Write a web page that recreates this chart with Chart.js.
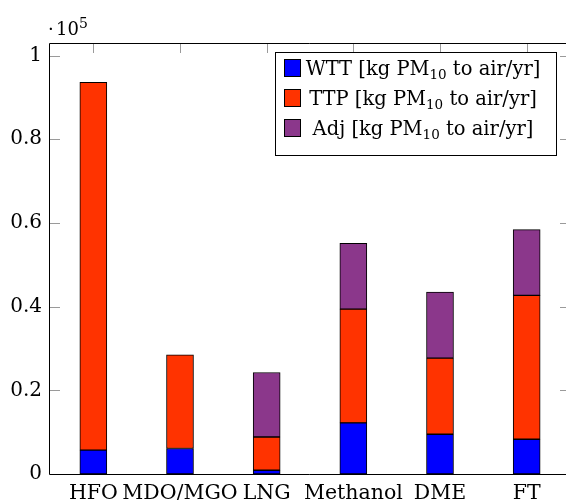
<!DOCTYPE html>
<html><head><meta charset="utf-8">
<script src="https://cdn.jsdelivr.net/npm/chart.js@4/dist/chart.umd.min.js"></script>
<style>html,body{margin:0;padding:0;overflow:hidden;background:#fff}#wrap{width:566px;height:500px;overflow:hidden;position:relative}canvas{display:block;position:absolute;left:0;top:0}</style>
</head><body>
<div id="wrap"><canvas id="c" width="580" height="500" style="width:580px;height:500px"></canvas></div>
<script>
// Data (kg PM10 to air / yr)
const categories = ['HFO', 'MDO/MGO', 'LNG', 'Methanol', 'DME', 'FT'];
const wttValues = [5700, 6100, 900, 12200, 9500, 8300];
const ttpValues = [87900, 22400, 7950, 27200, 18200, 34400];
const adjValues = [0, 0, 15400, 15700, 15800, 15700];
const seriesLabels = ['WTT', 'TTP', 'Adj'];
const yTickValues = [0, 20000, 40000, 60000, 80000, 100000];

const FONT = "'DejaVu Serif', serif";
const colors = ['#0000FF', '#FF3300', '#8B378B'];

const framePlugin = {
  id: 'frame',
  beforeDatasetsDraw(chart) {
    const {ctx, chartArea: a, scales: {x, y}} = chart;
    ctx.save();
    ctx.strokeStyle = '#9a9a9a';
    ctx.lineWidth = 1;
    ctx.beginPath();
    const tl = 10;
    y.ticks.forEach(t => {
      const py = Math.round(y.getPixelForValue(t.value)) + 0.5;
      ctx.moveTo(a.left, py); ctx.lineTo(a.left + tl, py);
      ctx.moveTo(a.right, py); ctx.lineTo(a.right - tl, py);
    });
    categories.forEach((c, i) => {
      const px = Math.round(x.getPixelForValue(i)) + 0.5;
      ctx.moveTo(px, a.top); ctx.lineTo(px, a.top + tl);
      ctx.moveTo(px, a.bottom); ctx.lineTo(px, a.bottom - tl);
    });
    ctx.stroke();
    ctx.restore();
  },
  afterDatasetsDraw(chart) {
    const {ctx, chartArea: a} = chart;
    ctx.save();
    ctx.strokeStyle = '#000';
    ctx.lineWidth = 1;
    const l = Math.round(a.left) - 0.5, t = Math.round(a.top) + 0.5, b = Math.round(a.bottom) + 0.5, r = Math.round(a.right);
    ctx.beginPath();
    ctx.moveTo(r, t); ctx.lineTo(l, t); ctx.lineTo(l, b); ctx.lineTo(r, b);
    ctx.stroke();
    ctx.restore();
  },
  afterDraw(chart) {
    const {ctx} = chart;
    ctx.save();
    // exponent
    ctx.fillStyle = '#000';
    ctx.textBaseline = 'alphabetic';
    ctx.textAlign = 'left';
    ctx.font = '18px ' + FONT;
    ctx.fillText('·', 48, 35);
    ctx.fillText('10', 56, 35);
    ctx.font = '14px ' + FONT;
    ctx.fillText('5', 79, 28);
    // legend
    const bx = 275.5, by = 52.5, bw = 281, bh = 103;
    ctx.fillStyle = '#fff';
    ctx.fillRect(bx, by, bw, bh);
    ctx.strokeStyle = '#000';
    ctx.lineWidth = 1;
    ctx.strokeRect(bx, by, bw, bh);
    chart.data.datasets.forEach((ds, i) => {
      const cy = 68 + i * 30;
      ctx.fillStyle = ds.backgroundColor;
      ctx.fillRect(284.5, cy - 8.5, 16, 17);
      ctx.strokeStyle = '#000';
      ctx.strokeRect(284.5, cy - 8.5, 16, 17);
      const parts = [
        {t: ds.label + ' [kg PM', f: '19.5px ' + FONT, dy: 0},
        {t: '10', f: '13.5px ' + FONT, dy: 4},
        {t: ' to air/yr]', f: '19.5px ' + FONT, dy: 0}
      ];
      let tot = 0;
      parts.forEach(p => { ctx.font = p.f; p.w = ctx.measureText(p.t).width; tot += p.w; });
      let xx = 423 - tot / 2;
      const base = cy + 7;
      ctx.fillStyle = '#000';
      parts.forEach(p => { ctx.font = p.f; ctx.fillText(p.t, xx, base + p.dy); xx += p.w; });
    });
    ctx.restore();
  }
};

const mk = (label, data, i) => ({
  label, data,
  backgroundColor: colors[i],
  borderColor: '#000',
  borderWidth: 1,
  borderSkipped: false,
  barThickness: 27,
  stack: 's'
});

new Chart(document.getElementById('c'), {
  type: 'bar',
  data: {
    labels: categories,
    datasets: [
      mk(seriesLabels[0], wttValues, 0),
      mk(seriesLabels[1], ttpValues, 1),
      mk(seriesLabels[2], adjValues, 2)
    ]
  },
  options: {
    responsive: false,
    animation: false,
    layout: {padding: {top: 43, right: 10, left: 0, bottom: 0}},
    plugins: {legend: {display: false}, tooltip: {enabled: false}},
    scales: {
      x: {
        stacked: true,
        offset: true,
        grid: {display: false, drawTicks: false},
        border: {display: false},
        ticks: {color: '#000', font: {family: FONT, size: 20.5}, padding: 7, maxRotation: 0, autoSkip: false},
        afterFit: s => { s.height = 26; }
      },
      y: {
        stacked: true,
        min: 0,
        max: 103000,
        grid: {display: false, drawTicks: false},
        border: {display: false},
        afterBuildTicks: s => { s.ticks = yTickValues.map(v => ({value: v})); },
        ticks: {
          color: '#000', font: {family: FONT, size: 20}, padding: 8,
          callback: v => String(Math.round(v / 1e4) / 10)
        },
        afterFit: s => { s.width = 50; }
      }
    }
  },
  plugins: [framePlugin]
});
</script>
</body></html>
